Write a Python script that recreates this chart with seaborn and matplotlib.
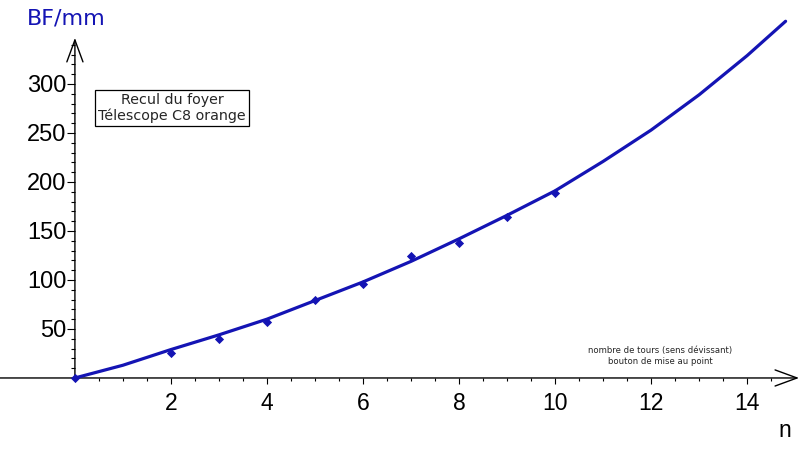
import numpy as np
import pandas as pd
import matplotlib
matplotlib.use("Agg")
import matplotlib.pyplot as plt
from matplotlib.ticker import FixedLocator
import seaborn as sns

# fitted curve
curve_n = [0, 1, 2, 3, 4, 5, 6, 7, 8, 9, 10, 11, 12, 13, 14, 14.8]
curve_bf = [0, 13, 29, 44, 60, 79, 98, 119, 142, 166, 191, 221, 253, 289, 329, 364]

# measured points
meas_n = [0, 2, 3, 4, 5, 6, 7, 8, 9, 10]
meas_bf = [0, 25, 40, 57, 80, 96, 124, 138, 164, 189]

x_ticks = [2, 4, 6, 8, 10, 12, 14]
y_ticks = [50, 100, 150, 200, 250, 300]

blue = "#1414b4"

sns.set_style("white")
plt.rcParams["font.family"] = ["Liberation Sans", "DejaVu Sans"]

fig = plt.figure(figsize=(8, 4.5), dpi=100)
ax = fig.add_axes([0, 0, 1, 1])

df_curve = pd.DataFrame({"n": curve_n, "BF": curve_bf})
df_meas = pd.DataFrame({"n": meas_n, "BF": meas_bf})
sns.lineplot(data=df_curve, x="n", y="BF", ax=ax, color=blue, lw=2.3, sort=True)
sns.scatterplot(data=df_meas, x="n", y="BF", ax=ax, color=blue, marker="D", s=22,
                edgecolor=blue, linewidth=0, zorder=4)

ax.set_xlim(-1.56, 15.1)
ax.set_ylim(-73.5, 385.7)
ax.set_xlabel("")
ax.set_ylabel("")

for s in ["top", "right", "left", "bottom"]:
    ax.spines[s].set_visible(False)
ax.spines["left"].set_position(("data", 0))
ax.spines["bottom"].set_position(("data", 0))

ax.set_xticks(x_ticks)
ax.set_yticks(y_ticks)
# minor ticks only on the positive half-axes
ax.xaxis.set_minor_locator(FixedLocator(np.arange(0.5, 15.0, 0.5)))
ax.yaxis.set_minor_locator(FixedLocator(np.arange(10, 341, 10)))
ax.tick_params(axis="x", which="both", bottom=True, top=False, direction="out",
               width=0.8, color="black")
ax.tick_params(axis="y", which="both", left=True, right=False, direction="out",
               width=0.8, color="black")
ax.tick_params(axis="x", which="major", length=4.3, labelsize=16.5, pad=6,
               labelcolor="black")
ax.tick_params(axis="x", which="minor", length=2.2)
ax.tick_params(axis="y", which="major", length=5.8, labelsize=17, pad=0.5,
               labelcolor="black")
ax.tick_params(axis="y", which="minor", length=2.9)

# axes drawn as arrows through the origin
arrow = dict(arrowstyle="->,head_length=1.58,head_width=0.58", lw=1, color="black",
             shrinkA=0, shrinkB=0, mutation_scale=10)
ax.annotate("", xy=(15.08, 0), xytext=(-1.6, 0), arrowprops=arrow, zorder=1)
ax.annotate("", xy=(0, 347), xytext=(0, 0), arrowprops=arrow, zorder=1)

ax.text(27 / 800, 1 - 24 / 450, "BF/mm", transform=ax.transAxes, color=blue,
        fontsize=16, family=["DejaVu Sans"], ha="left", va="baseline")
ax.text(785 / 800, 1 - 437 / 450, "n", transform=ax.transAxes, color="black",
        fontsize=16.5, ha="center", va="baseline")
ax.text(172 / 800, 1 - 108 / 450, "Recul du foyer\nTélescope C8 orange",
        transform=ax.transAxes, fontsize=10.3, family=["DejaVu Sans"],
        ha="center", va="center", linespacing=1.1,
        bbox=dict(boxstyle="square,pad=0.25", fc="white", ec="black", lw=0.9))
ax.text(660 / 800, 1 - 356 / 450, "nombre de tours (sens dévissant)\nbouton de mise au point",
        transform=ax.transAxes, fontsize=6.1, family=["DejaVu Sans"],
        ha="center", va="center", linespacing=1.3)

fig.savefig("out.png", dpi=100)
